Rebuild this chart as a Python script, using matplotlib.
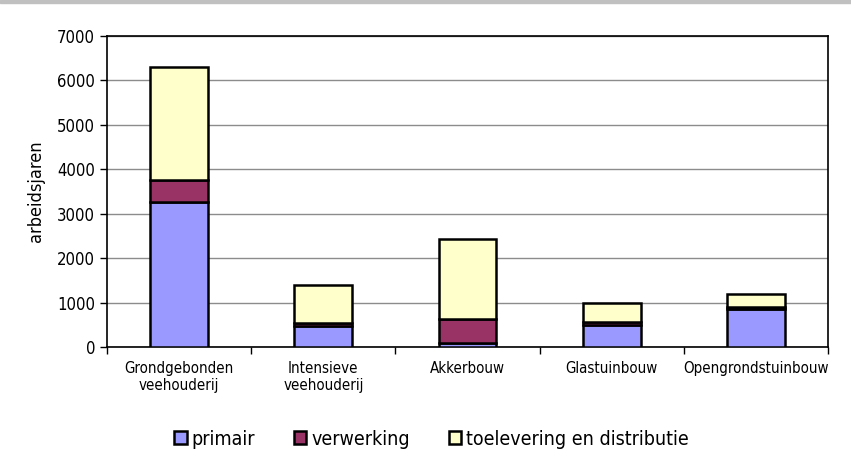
import numpy as np
import matplotlib.pyplot as plt
from matplotlib.patches import Rectangle

categories = ["Grondgebonden\nveehouderij", "Intensieve\nveehouderij", "Akkerbouw",
              "Glastuinbouw", "Opengrondstuinbouw"]
primair = [3270, 470, 80, 490, 850]
verwerking = [500, 75, 555, 75, 60]
toelevering = [2530, 840, 1795, 430, 285]

series_names = ["primair", "verwerking", "toelevering en distributie"]
colors = ["#9999ff", "#993366", "#ffffcc"]

plt.rcParams['font.family'] = ['DejaVu Sans']
plt.rcParams['font.stretch'] = 'condensed'

fig = plt.figure(figsize=(8.51, 4.75), dpi=100)
ax = fig.add_axes([0.1257, 0.2695, 0.8473, 0.6547])

# grey strip at the top of the picture
fig.patches.append(Rectangle((0, 0.993), 1, 0.007, transform=fig.transFigure,
                             color="#c0c0c0", zorder=0))

x = np.arange(len(categories))
bottom = np.zeros(len(categories))
for vals, name, c in zip([primair, verwerking, toelevering], series_names, colors):
    ax.bar(x, vals, 0.4, bottom=bottom, color=c, edgecolor="black", linewidth=1.8,
           label=name, zorder=3)
    bottom += np.array(vals)

ax.set_xlim(-0.5, len(categories) - 0.5)
ax.set_ylim(0, 7000)
ax.set_yticks(range(0, 7001, 1000))
ax.yaxis.grid(True, color="#8c8c8c", linewidth=1)
ax.set_axisbelow(True)

ax.set_xticks(x)
ax.set_xticklabels(categories, fontsize=10.8, linespacing=1.15)
ax.set_xticks(np.arange(-0.5, len(categories)), minor=True)
ax.tick_params(axis="x", which="major", length=0, pad=10)
ax.tick_params(axis="x", which="minor", length=5, width=1)
ax.tick_params(axis="y", labelsize=12, length=5, width=1)

for s in ax.spines.values():
    s.set_color("black")
    s.set_linewidth(1.2)

ax.set_ylabel("arbeidsjaren", fontsize=13, labelpad=9)

ax.legend(loc="upper center", bbox_to_anchor=(0.45, -0.21), ncol=3, frameon=False,
          fontsize=14, handlelength=0.65, handleheight=0.65, handletextpad=0.25,
          columnspacing=2.0)

fig.savefig("out.png", dpi=100)
